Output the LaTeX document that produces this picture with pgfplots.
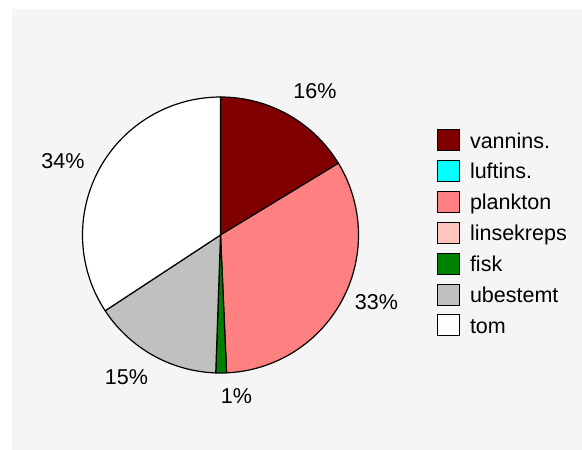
\documentclass[border=0pt]{standalone}
\usepackage{fontspec}
\setmainfont{Liberation Sans}
\usepackage{pgfplots}
\pgfplotsset{compat=1.18}
\definecolor{bg}{HTML}{F5F5F5}
\definecolor{cvannins}{HTML}{800000}
\definecolor{cluftins}{HTML}{00FFFF}
\definecolor{cplankton}{HTML}{FF8080}
\definecolor{clinse}{HTML}{FFC4BC}
\definecolor{cfisk}{HTML}{008000}
\definecolor{cubest}{HTML}{C0C0C0}
\definecolor{ctom}{HTML}{FFFFFF}
% shares (percent), clockwise from 12 o'clock
\def\vVannins{16.3}
\def\vLuftins{0}
\def\vPlankton{33.0}
\def\vLinse{0}
\def\vFisk{1.25}
\def\vUbest{15.2}
\def\vTom{34.25}
\begin{document}
\begin{tikzpicture}
\fill[bg] (12bp,0bp) rectangle (582bp,441bp);
\path (0bp,0bp) rectangle (582bp,450bp);
\def\cx{220.5}\def\cy{215}\def\R{138}
\pgfmathsetmacro\aA{0}
\pgfmathsetmacro\aB{\aA+3.6*\vVannins}
\pgfmathsetmacro\aC{\aB+3.6*\vLuftins}
\pgfmathsetmacro\aD{\aC+3.6*\vPlankton}
\pgfmathsetmacro\aE{\aD+3.6*\vLinse}
\pgfmathsetmacro\aF{\aE+3.6*\vFisk}
\pgfmathsetmacro\aG{\aF+3.6*\vUbest}
\pgfmathsetmacro\aH{\aG+3.6*\vTom}
\begin{axis}[
  at={(0bp,0bp)}, anchor=south west,
  scale only axis, width=582bp, height=450bp,
  xmin=0, xmax=582, ymin=0, ymax=450,
  axis lines=none, clip=false,
  font=\fontsize{21.5bp}{24bp}\selectfont,
  legend image code/.code={\draw[#1, line width=1bp] (0bp,-10.5bp) rectangle (22bp,10.5bp);},
  legend cell align=left,
  legend style={at={(axis cs:437,321)}, anchor=north west, draw=none, fill=none,
    inner sep=0pt, outer sep=0pt, row sep=8.9bp, column sep=10bp,
    font=\fontsize{21.5bp}{24bp}\selectfont,
    nodes={inner sep=0pt, outer sep=0pt, text height=17bp, text depth=1bp, anchor=west}},
]
\addplot[fill=cvannins, draw=black, line width=1.2bp, domain=\aA:\aB, samples=60, variable=\t, forget plot]
  ({\cx+\R*sin(\t)},{\cy+\R*cos(\t)}) -- (axis cs:\cx,\cy) -- cycle;
\addplot[fill=cplankton, draw=black, line width=1.2bp, domain=\aC:\aD, samples=100, variable=\t, forget plot]
  ({\cx+\R*sin(\t)},{\cy+\R*cos(\t)}) -- (axis cs:\cx,\cy) -- cycle;
\addplot[fill=cfisk, draw=black, line width=1.2bp, domain=\aE:\aF, samples=5, variable=\t, forget plot]
  ({\cx+\R*sin(\t)},{\cy+\R*cos(\t)}) -- (axis cs:\cx,\cy) -- cycle;
\addplot[fill=cubest, draw=black, line width=1.2bp, domain=\aF:\aG, samples=60, variable=\t, forget plot]
  ({\cx+\R*sin(\t)},{\cy+\R*cos(\t)}) -- (axis cs:\cx,\cy) -- cycle;
\addplot[fill=ctom, draw=black, line width=1.2bp, domain=\aG:\aH, samples=100, variable=\t, forget plot]
  ({\cx+\R*sin(\t)},{\cy+\R*cos(\t)}) -- (axis cs:\cx,\cy) -- cycle;
\node at (axis cs:315,359) {16\%};
\node at (axis cs:376.5,148) {33\%};
\node at (axis cs:236.5,54) {1\%};
\node at (axis cs:126.5,73) {15\%};
\node at (axis cs:63,289) {34\%};
\addlegendimage{fill=cvannins, draw=black}\addlegendentry{vannins.}
\addlegendimage{fill=cluftins, draw=black}\addlegendentry{luftins.}
\addlegendimage{fill=cplankton, draw=black}\addlegendentry{plankton}
\addlegendimage{fill=clinse, draw=black}\addlegendentry{linsekreps}
\addlegendimage{fill=cfisk, draw=black}\addlegendentry{fisk}
\addlegendimage{fill=cubest, draw=black}\addlegendentry{ubestemt}
\addlegendimage{fill=ctom, draw=black}\addlegendentry{tom}
\end{axis}
\end{tikzpicture}
\end{document}
